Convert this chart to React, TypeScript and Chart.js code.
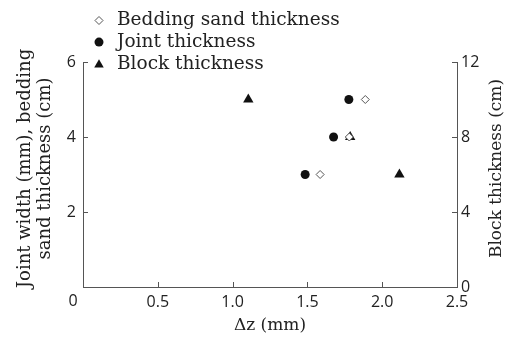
import React, { useEffect, useRef } from 'react';
import { Chart, registerables } from 'chart.js';
import { drawPoint } from 'chart.js/helpers';

Chart.register(...registerables);

const seriesNames = ['Bedding sand thickness', 'Joint thickness', 'Block thickness'];
const beddingX = [1.585, 1.78, 1.887];
const beddingY = [3, 4, 5];
const jointX = [1.485, 1.675, 1.777];
const jointY = [3, 4, 5];
const blockX = [1.105, 1.786, 2.115];
const blockY = [10, 8, 6];
const xTickValues = [0, 0.5, 1.0, 1.5, 2.0, 2.5];
const leftTickValues = [0, 2, 4, 6];
const rightTickValues = [0, 4, 8, 12];
const xTitle = 'Δz (mm)';
const leftTitle = ['Joint width (mm), bedding', 'sand thickness (cm)'];
const rightTitle = 'Block thickness (cm)';

const AXIS = '#555';
const TEXT = '#222';
const SERIF = '"DejaVu Serif", serif';
const SANS = '"Open Sans", sans-serif';

const inwardTicks = {
  id: 'inwardTicks',
  afterDraw(chart: any) {
    const ctx = chart.ctx;
    const { left, right, top, bottom } = chart.chartArea;
    const L = 5;
    ctx.save();
    ctx.strokeStyle = AXIS;
    ctx.lineWidth = 1;
    ctx.beginPath();
    const xs = chart.scales.x;
    xTickValues.forEach((v) => {
      if (v <= xs.min || v >= xs.max) return;
      const px = Math.round(xs.getPixelForValue(v)) + 0.5;
      ctx.moveTo(px, bottom);
      ctx.lineTo(px, bottom - L);
    });
    const yl = chart.scales.y;
    leftTickValues.forEach((v) => {
      if (v <= yl.min) return;
      const py = Math.round(yl.getPixelForValue(v)) + 0.5;
      ctx.moveTo(left, py);
      ctx.lineTo(left + L, py);
    });
    const yr = chart.scales.y2;
    rightTickValues.forEach((v) => {
      if (v <= yr.min) return;
      const py = Math.round(yr.getPixelForValue(v)) + 0.5;
      ctx.moveTo(right, py);
      ctx.lineTo(right - L, py);
    });
    ctx.stroke();
    ctx.fillStyle = TEXT;
    ctx.font = `16px ${SANS}`;
    ctx.textAlign = 'center';
    ctx.textBaseline = 'middle';
    ctx.fillText('0', left - 10, bottom + 14);
    ctx.font = `17px ${SERIF}`;
    ctx.fillText(xTitle, (left + right) / 2, bottom + 39);
    const midY = (top + bottom) / 2 - 6;
    ctx.save();
    ctx.translate(25, midY);
    ctx.rotate(-Math.PI / 2);
    ctx.font = `18px ${SERIF}`;
    ctx.fillText(leftTitle[0], 0, 0);
    ctx.fillText(leftTitle[1], 0, 20);
    ctx.restore();
    ctx.save();
    ctx.translate(right + 40, midY);
    ctx.rotate(-Math.PI / 2);
    ctx.font = `17px ${SERIF}`;
    ctx.fillText(rightTitle, 0, 0);
    ctx.restore();
    ctx.restore();
  },
};

const customLegend = {
  id: 'customLegend',
  afterDraw(chart: any) {
    const ctx = chart.ctx;
    const { left } = chart.chartArea;
    ctx.save();
    ctx.font = `18.5px ${SERIF}`;
    ctx.textAlign = 'left';
    ctx.textBaseline = 'middle';
    chart.data.datasets.forEach((ds: any, i: number) => {
      const y = 20.5 + i * 21.6;
      const mx = left + 16;
      ctx.fillStyle = ds.backgroundColor;
      ctx.strokeStyle = ds.borderColor;
      ctx.lineWidth = ds.borderWidth;
      drawPoint(ctx, { pointStyle: ds.pointStyle, radius: ds.legendRadius, borderWidth: ds.borderWidth, rotation: 0 }, mx, y + (ds.pointStyle === 'triangle' ? 1 : 0));
      ctx.fillStyle = TEXT;
      ctx.fillText(ds.label, left + 34, y);
    });
    ctx.restore();
  },
};

export default function App() {
  const ref = useRef<HTMLCanvasElement>(null);
  useEffect(() => {
    if (!ref.current) return;
    const toPts = (xs: number[], ys: number[]) => xs.map((x, i) => ({ x, y: ys[i] }));
    const chart = new Chart(ref.current, {
      type: 'scatter',
      data: {
        datasets: [
          {
            label: seriesNames[0],
            data: toPts(beddingX, beddingY),
            yAxisID: 'y',
            pointStyle: 'rectRot',
            pointRadius: 4,
            backgroundColor: '#fff',
            borderColor: '#555',
            borderWidth: 1,
            legendRadius: 4,
          } as any,
          {
            label: seriesNames[1],
            data: toPts(jointX, jointY),
            yAxisID: 'y',
            pointStyle: 'circle',
            pointRadius: 4.5,
            backgroundColor: '#111',
            borderColor: '#111',
            borderWidth: 0,
            legendRadius: 4.5,
          } as any,
          {
            label: seriesNames[2],
            data: toPts(blockX, blockY),
            yAxisID: 'y2',
            pointStyle: 'triangle',
            pointRadius: 6,
            backgroundColor: '#111',
            borderColor: '#111',
            borderWidth: 0,
            legendRadius: 5.5,
          } as any,
        ],
      },
      options: {
        animation: false,
        responsive: false,
        maintainAspectRatio: false,
        layout: { padding: { top: 62, left: 0, right: 0, bottom: 0 } },
        plugins: { legend: { display: false }, tooltip: { enabled: false } },
        scales: {
          x: {
            type: 'linear',
            min: 0,
            max: 2.5,
            afterFit: (s: any) => { s.height = 52; },
            afterBuildTicks: (s: any) => { s.ticks = xTickValues.map((v) => ({ value: v })); },
            grid: { display: false, drawTicks: false },
            border: { display: true, color: AXIS, width: 1 },
            ticks: {
              color: TEXT,
              font: { family: SANS, size: 16 },
              padding: 6,
              maxRotation: 0,
              callback: (v: any) => (Number(v) === 0 ? '' : Number(v).toFixed(1)),
            },
          },
          y: {
            type: 'linear',
            position: 'left',
            min: 0,
            max: 6,
            afterFit: (s: any) => { s.width = 83; },
            afterBuildTicks: (s: any) => { s.ticks = leftTickValues.map((v) => ({ value: v })); },
            grid: { display: false, drawTicks: false },
            border: { display: true, color: AXIS, width: 1 },
            ticks: {
              color: TEXT,
              font: { family: SANS, size: 16 },
              padding: 7,
              callback: (v: any) => (Number(v) === 0 ? '' : String(v)),
            },
          },
          y2: {
            type: 'linear',
            position: 'right',
            min: 0,
            max: 12,
            afterFit: (s: any) => { s.width = 53; },
            afterBuildTicks: (s: any) => { s.ticks = rightTickValues.map((v) => ({ value: v })); },
            grid: { display: false, drawTicks: false },
            border: { display: true, color: AXIS, width: 1 },
            ticks: {
              color: TEXT,
              font: { family: SANS, size: 16 },
              padding: 4,
            },
          },
        },
      },
      plugins: [inwardTicks, customLegend],
    });
    return () => chart.destroy();
  }, []);
  return (
    <div style={{ position: 'fixed', left: 0, top: 0, width: 510, height: 339, background: '#fff' }}>
      <canvas ref={ref} width={510} height={339} style={{ width: 510, height: 339, display: 'block' }} />
    </div>
  );
}
